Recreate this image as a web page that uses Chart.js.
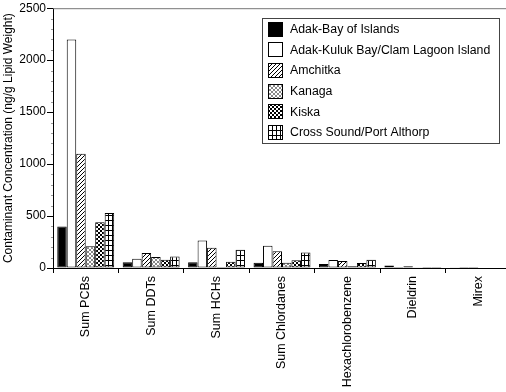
<!DOCTYPE html>
<html>
<head>
<meta charset="utf-8">
<script src="https://cdn.jsdelivr.net/npm/chart.js@4/dist/chart.umd.min.js"></script>
<style>
html,body{margin:0;padding:0;background:#fff;overflow:hidden;}
#wrap{width:506px;height:392px;overflow:hidden;position:relative;}
#box{width:512px;height:392px;position:absolute;left:0;top:0;}
</style>
</head>
<body>
<div id="wrap"><div id="box"><canvas id="c"></canvas></div></div>
<script>
const categories = ['Sum PCBs','Sum DDTs','Sum HCHs','Sum Chlordanes','Hexachlorobenzene','Dieldrin','Mirex'];
const seriesNames = ['Adak-Bay of Islands','Adak-Kuluk Bay/Clam Lagoon Island','Amchitka','Kanaga','Kiska','Cross Sound/Port Althorp'];
const adakBay    = [400, 55, 55, 50, 38, 25, 2];
const adakKuluk  = [2200, 90, 265, 215, 78, 10, 1];
const amchitka   = [1100, 145, 195, 160, 68, 18, 1];
const kanaga     = [210, 105, 10, 50, 18, 8, 5];
const kiska      = [440, 80, 60, 75, 48, 10, 5];
const crossSound = [530, 110, 175, 150, 80, 10, 5];
const yTicks = [0, 500, 1000, 1500, 2000, 2500];

function tile(w, h, draw) {
  const c = document.createElement('canvas');
  c.width = w; c.height = h;
  const g = c.getContext('2d');
  g.fillStyle = '#fff'; g.fillRect(0, 0, w, h);
  draw(g);
  return document.createElement('canvas').getContext('2d').createPattern(c, 'repeat');
}
const fills = [
  '#000',
  '#fff',
  tile(4, 4, g => { g.strokeStyle = '#000'; g.lineWidth = 1; g.beginPath();
    g.moveTo(-1, 5); g.lineTo(5, -1); g.moveTo(-1, 1); g.lineTo(1, -1); g.moveTo(3, 5); g.lineTo(5, 3); g.stroke(); }),
  tile(4, 4, g => { g.strokeStyle = '#555'; g.lineWidth = 0.7; g.beginPath();
    g.moveTo(0, 0); g.lineTo(4, 4); g.moveTo(0, 4); g.lineTo(4, 0); g.stroke(); }),
  tile(4, 4, g => { g.fillStyle = '#000'; g.fillRect(0, 0, 4, 4); g.fillStyle = '#fff';
    g.fillRect(0, 0, 2, 2); g.fillRect(2, 2, 2, 2); }),
  tile(4, 5, g => { g.fillStyle = '#000'; g.fillRect(0, 0, 4, 1); g.fillRect(0, 0, 1, 5); })
];
const seriesData = [adakBay, adakKuluk, amchitka, kanaga, kiska, crossSound];
const FONT = '"Liberation Sans", Arial, sans-serif';

const extras = {
  id: 'extras',
  afterDraw(chart) {
    const ctx = chart.ctx, a = chart.chartArea, y = chart.scales.y;
    ctx.save();
    ctx.strokeStyle = '#777'; ctx.lineWidth = 1;
    ctx.beginPath(); ctx.moveTo(a.left, a.top + 0.5); ctx.lineTo(chart.width, a.top + 0.5); ctx.stroke();
    ctx.strokeStyle = '#999';
    for (let v = 100; v < 2500; v += 100) {
      if (v % 500 === 0) continue;
      const py = Math.round(y.getPixelForValue(v)) + 0.5;
      ctx.beginPath(); ctx.moveTo(a.left - 2, py); ctx.lineTo(a.left, py); ctx.stroke();
    }
    const lx = 262, ly = 18, lw = 237, lh = 125;
    ctx.fillStyle = '#fff'; ctx.fillRect(lx, ly, lw, lh);
    ctx.strokeStyle = '#444'; ctx.strokeRect(lx + 0.5, ly + 0.5, lw, lh);
    ctx.font = '12.3px ' + FONT;
    ctx.textBaseline = 'middle';
    chart.data.datasets.forEach((ds, i) => {
      const cy = 28.5 + i * 20.7;
      const sy = Math.round(cy - 7);
      ctx.fillStyle = ds.backgroundColor; ctx.fillRect(268, sy, 14, 14);
      ctx.strokeStyle = '#000'; ctx.strokeRect(268.5, sy + 0.5, 14, 14);
      ctx.fillStyle = '#000'; ctx.fillText(ds.label, 290, cy + 1);
    });
    ctx.restore();
  }
};

new Chart(document.getElementById('c'), {
  type: 'bar',
  data: {
    labels: categories,
    datasets: seriesNames.map((n, i) => ({
      label: n, data: seriesData[i], backgroundColor: fills[i],
      borderColor: '#000', borderWidth: 1, borderSkipped: false,
      categoryPercentage: 0.87, barPercentage: 1.0
    }))
  },
  options: {
    responsive: true, maintainAspectRatio: false, animation: false,
    layout: { padding: { top: 8, right: 1, left: 0, bottom: 0 } },
    plugins: { legend: { display: false }, tooltip: { enabled: false } },
    scales: {
      x: {
        offset: true,
        grid: { offset: true, drawOnChartArea: false, color: '#000', tickLength: 5 },
        border: { color: '#000', width: 1 },
        ticks: { color: '#000', font: { size: 12.5, family: FONT }, maxRotation: 90, minRotation: 90, padding: 3, autoSkip: false },
        afterFit(s) { s.height = 124; }
      },
      y: {
        min: 0, max: 2500,
        afterBuildTicks(s) { s.ticks = yTicks.map(v => ({ value: v })); },
        grid: { drawOnChartArea: false, color: '#000', tickLength: 6 },
        border: { color: '#000', width: 1 },
        ticks: { color: '#000', font: { size: 12, family: FONT }, padding: 1, callback: v => String(v) },
        title: { display: true, text: 'Contaminant Concentration (ng/g Lipid Weight)', color: '#000',
          font: { size: 12, family: FONT }, padding: { top: 1, bottom: 0 } },
        afterFit(s) { s.width = 53; }
      }
    }
  },
  plugins: [extras]
});
</script>
</body>
</html>
